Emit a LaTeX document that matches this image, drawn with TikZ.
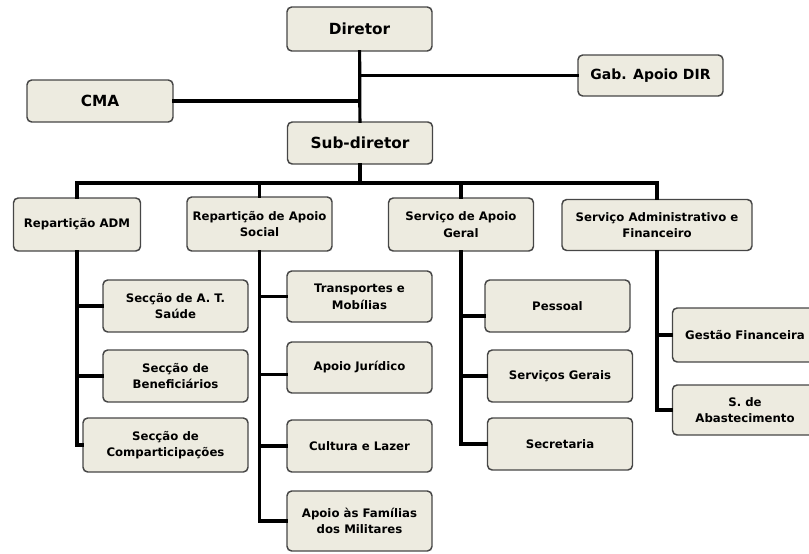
\documentclass[tikz,border=0pt]{standalone}
\usepackage{fontspec}
\setmainfont{DejaVu Sans}
\usetikzlibrary{positioning, calc}
\definecolor{boxfill}{RGB}{237, 235, 224}
\definecolor{boxline}{RGB}{70, 70, 70}

\begin{document}
\begin{tikzpicture}[x=0.75pt, y=-0.75pt,
    unit/.style={draw=boxline, line width=1.1pt, fill=boxfill, rounded corners=3.5pt,
        align=center, inner sep=2pt, font=\bfseries\fontsize{8.8}{12.5}\selectfont,
        minimum width=108.75pt, minimum height=39pt},
    head/.style={unit, font=\bfseries\fontsize{11.5}{13}\selectfont, minimum height=31.5pt},
    link/.style={line width=2.4pt, line cap=rect}]
    \useasboundingbox (0,0) rectangle (809,553);
    \clip (0,0) rectangle (809,553);

    % Direction
    \node[head, minimum height=33pt] (dir) at (359.5, 29) {Diretor};
    \node[head, font=\bfseries\fontsize{10.5}{13}\selectfont, minimum height=30.75pt] (gab) at (650.5, 75.5) {Gab. Apoio DIR};
    \node[head, minimum width=109.5pt] (cma) at (100, 101) {CMA};
    \node[head] (sub) at (360, 143) {Sub-diretor};
    \coordinate (bus) at (360, 183);

    % Departments
    \node[unit, minimum width=95.25pt, minimum height=39.75pt] (radm) at (77, 224.5) {Repartição ADM};
    \node[unit, minimum height=40.5pt] (rsoc) at (259.5, 224) {Repartição de Apoio\\Social};
    \node[unit, minimum height=39.75pt] (sag) at (461, 224.5) {Serviço de Apoio\\Geral};
    \node[unit, minimum width=142.5pt, minimum height=38.25pt] (saf) at (657, 225) {Serviço Administrativo e\\Financeiro};

    % Sections
    \node[unit] (sat) at (175.5, 306) {Secção de A. T.\\Saúde};
    \node[unit] (sben) at (175.5, 376) {Secção de\\Beneficiários};
    \node[unit, minimum width=123.75pt, minimum height=40.5pt] (scomp) at (165.5, 445) {Secção de\\Comparticipações};
    \node[unit, minimum height=38.25pt] (trans) at (359.5, 296.5) {Transportes e\\Mobílias};
    \node[unit, minimum height=38.25pt] (jur) at (359.5, 367.5) {Apoio Jurídico};
    \node[unit] (cult) at (359.5, 446) {Cultura e Lazer};
    \node[unit, minimum height=45pt] (fam) at (359.5, 521) {Apoio às Famílias\\dos Militares};
    \node[unit] (pes) at (557.5, 306) {Pessoal};
    \node[unit] (sger) at (560, 376) {Serviços Gerais};
    \node[unit] (sec) at (560, 444) {Secretaria};
    \node[unit, minimum height=40.5pt] (gf) at (745, 335) {Gestão Financeira};
    \node[unit, minimum height=37.5pt] (abast) at (745, 410) {S. de\\Abastecimento};

    % Links
    \draw[link] (dir) -- (sub);
    \draw[link] (dir.south |- gab.west) -- (gab);
    \draw[link] (dir.south |- cma.east) -- (cma);
    \draw[link] (sub) -- (bus);
    \draw[link] (radm.north) -- (radm.north |- bus) -- (saf.north |- bus) -- (saf.north);
    \foreach \d in {rsoc, sag}
        \draw[link] (\d.north) -- (\d.north |- bus);
    \foreach \s in {sat, sben, scomp}
        \draw[link] (radm.south) |- (\s.west);
    \foreach \s in {trans, cult, fam}
        \draw[link] (rsoc.south) |- (\s.west);
    \draw[link] (rsoc.south) |- ([yshift=-5pt]jur.west);
    \draw[link] (sag.south) |- ([yshift=-7.5pt]pes.west);
    \foreach \s in {sger, sec}
        \draw[link] (sag.south) |- (\s.west);
    \foreach \s in {gf, abast}
        \draw[link] (saf.south) |- (\s.west);
\end{tikzpicture}
\end{document}
